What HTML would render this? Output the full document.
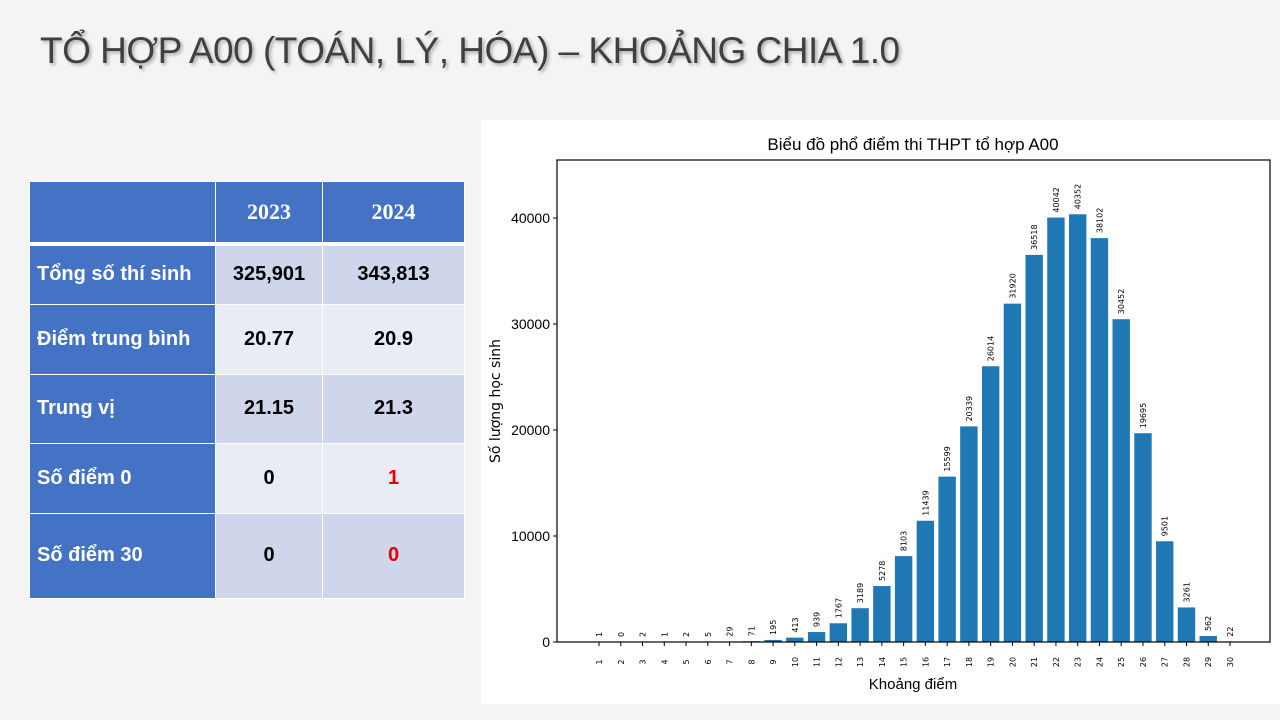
<!DOCTYPE html>
<html><head><meta charset="utf-8"><style>
body{margin:0;width:1280px;height:720px;background:#f4f4f4;position:relative;overflow:hidden;font-family:"Liberation Sans",sans-serif}
h1{position:absolute;left:40px;top:30px;margin:0;font-weight:normal;font-size:37px;color:#404040;text-shadow:2px 2px 3px #aaa;letter-spacing:-0.5px}
table{position:absolute;left:29px;top:181px;border-collapse:collapse}
td{border:1px solid #fff;font-weight:bold;font-size:20px;text-align:center;color:#000}
td.h{background:#4472c4;color:#fff;text-align:left;padding-left:7px}
tr.hd td{background:#4472c4;color:#fff;font-family:"Liberation Serif",serif;font-size:22px;height:58px;border-bottom:4px solid #fff}
tr.a td:not(.h){background:#cfd5ea}tr.b td:not(.h){background:#e9ebf5}
.red{color:#e00000!important}
#panel{position:absolute;left:481px;top:120px;width:799px;height:584px;background:#fff}
</style></head><body>
<h1>TỔ HỢP A00 (TOÁN, LÝ, HÓA) – KHOẢNG CHIA 1.0</h1>
<table>
<tr class="hd"><td style="width:183px"></td><td style="width:104px">2023</td><td style="width:139px">2024</td></tr>
<tr class="a" style="height:60px"><td class="h">Tổng số thí sinh</td><td>325,901</td><td>343,813</td></tr>
<tr class="b" style="height:70px"><td class="h">Điểm trung bình</td><td>20.77</td><td>20.9</td></tr>
<tr class="a" style="height:69px"><td class="h">Trung vị</td><td>21.15</td><td>21.3</td></tr>
<tr class="b" style="height:70px"><td class="h">Số điểm 0</td><td>0</td><td class="red">1</td></tr>
<tr class="a" style="height:85px"><td class="h">Số điểm 30</td><td>0</td><td class="red">0</td></tr>
</table>
<div id="panel"></div>
<svg id="chart" width="1280" height="720" style="position:absolute;left:0;top:0"></svg>
<script>
const categories=[1,2,3,4,5,6,7,8,9,10,11,12,13,14,15,16,17,18,19,20,21,22,23,24,25,26,27,28,29,30];
const values=[1,0,2,1,2,5,29,71,195,413,939,1767,3189,5278,8103,11439,15599,20339,26014,31920,36518,40042,40352,38102,30452,19695,9501,3261,562,22];
const yTicks=[0,10000,20000,30000,40000];
const NS="http://www.w3.org/2000/svg",svg=document.getElementById('chart');
const L=557,R=1270,T=160,B=642;
const x=c=>599+(c-1)*(1230-599)/29;
const y=v=>B-v*(106/10000);
const bw=17.4;
function mk(t,a,txt){const e=document.createElementNS(NS,t);for(const k in a)e.setAttribute(k,a[k]);if(txt!==undefined)e.textContent=txt;svg.appendChild(e);return e;}
categories.forEach((c,i)=>{
 const b=mk('rect',{x:x(c)-bw/2,y:y(values[i]),width:bw,height:B-y(values[i]),fill:'#1f77b4'});
 
 
 const vx=x(c)+3,vy=y(values[i])-5;
 const l=mk('text',{x:vx,y:vy,transform:`rotate(-90 ${vx} ${vy})`,'font-size':8,fill:'#000','font-family':'DejaVu Sans'},values[i]);
 
 
 mk('line',{x1:x(c),x2:x(c),y1:B,y2:B+4,stroke:'#000'});
 const tx=x(c)+3,ty=B+20;
 const t=mk('text',{x:tx,y:ty,transform:`rotate(-90 ${tx} ${ty})`,'font-size':8,fill:'#000','text-anchor':'middle','font-family':'DejaVu Sans'},c);
 
 
});
yTicks.forEach(v=>{
 mk('line',{x1:L-4,x2:L,y1:y(v),y2:y(v),stroke:'#000'});
 const t=mk('text',{x:L-7,y:y(v)+5,'font-size':14,'text-anchor':'end',fill:'#000','font-family':'Liberation Sans Narrow, Liberation Sans'},v);
 
 
});
const fr=mk('rect',{x:L,y:T,width:R-L,height:B-T,fill:'none',stroke:'#000','stroke-width':1.2});


const ti=mk('text',{x:913,y:150,'font-size':17,'text-anchor':'middle',fill:'#000','font-family':'Liberation Sans Narrow, Liberation Sans'},'Biểu đồ phổ điểm thi THPT tổ hợp A00');


const xt=mk('text',{x:913,y:689,'font-size':15,'text-anchor':'middle',fill:'#000','font-family':'Liberation Sans Narrow, Liberation Sans'},'Khoảng điểm');


const yt=mk('text',{x:500,y:401,'font-size':14,'text-anchor':'middle',fill:'#000',transform:'rotate(-90 500 401)','font-family':'DejaVu Sans'},'Số lượng học sinh');


</script>
</body></html>
